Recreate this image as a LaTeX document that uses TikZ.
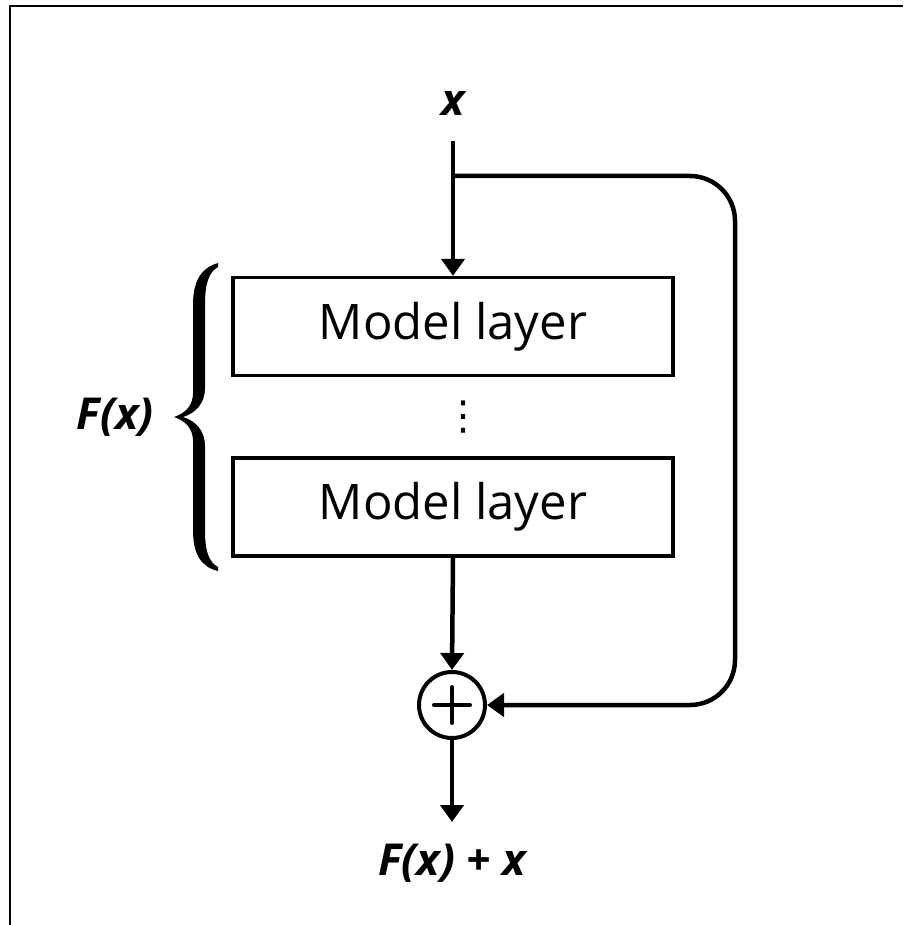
\documentclass[tikz,border=0pt]{standalone}
\usepackage{fontspec}
\setmainfont{Open Sans}
\newfontfamily\dejavu{DejaVu Sans}
\usetikzlibrary{arrows.meta}
\begin{document}
\begin{tikzpicture}[x=1pt,y=-1pt,
  layerbox/.style={draw,line width=3.3pt,minimum width=440pt,minimum height=98pt,inner sep=0pt,font=\fontsize{49}{52}\selectfont},
  conn/.style={line width=4.5pt,-{Triangle[width=23pt,length=17pt]}},
  lbl/.style={font=\fontsize{44}{48}\selectfont\bfseries\itshape,inner sep=0pt},
  sumnode/.style={circle,draw,line width=4pt,minimum size=66pt,inner sep=0pt}]
\useasboundingbox (0,0) rectangle (903,925);
% frame
\draw[line width=2pt] (10,925) -- (10,6) -- (903,6);
% nodes
\node[lbl] (xin) at (453,103) {x};
\coordinate (in) at (453,141);
\coordinate (br) at (453,176);
\node[layerbox] (box1) at (453,326.5) {Model layer};
\node[inner sep=0pt,font=\dejavu\fontsize{40}{40}\selectfont] (dots) at (463,417) {⋮};
\node[layerbox] (box2) at (453,507) {Model layer};
\node[sumnode] (sum) at (452,705) {};
\coordinate (out) at (452,822);
\node[lbl] (res) at (452,863) {F(x) + x};
\node[lbl] (fx) at (115,417) {F(x)};
\coordinate (skipR) at (735,176);
% plus sign
\draw[line width=4pt,line cap=round] ([xshift=-18pt]sum.center) -- ([xshift=18pt]sum.center);
\draw[line width=4pt,line cap=round] ([yshift=-18pt]sum.center) -- ([yshift=18pt]sum.center);
% connectors
\draw[conn] (in) -- (box1.north);
\draw[conn] (box2.south) -- (sum.north);
\draw[conn] (sum.south) -- (out);
\draw[conn,rounded corners=45pt] (br) -- (skipR) -- (skipR |- sum.east) -- (sum.east);
% brace
\fill[line join=round]
  (218,263) .. controls (201,268) and (193,281) .. (193,305) -- (193,393)
  .. controls (193,405) and (186,413) .. (174,417)
  .. controls (186,421) and (193,429) .. (193,441) -- (193,530)
  .. controls (193,554) and (201,567) .. (218,571)
  -- (218,567) .. controls (209,562) and (205,552) .. (205,530) -- (205,446)
  .. controls (205,431) and (196,421) .. (183,417)
  .. controls (196,413) and (205,403) .. (205,388) -- (205,305)
  .. controls (205,283) and (209,272) .. (218,267) -- cycle;
\end{tikzpicture}
\end{document}
